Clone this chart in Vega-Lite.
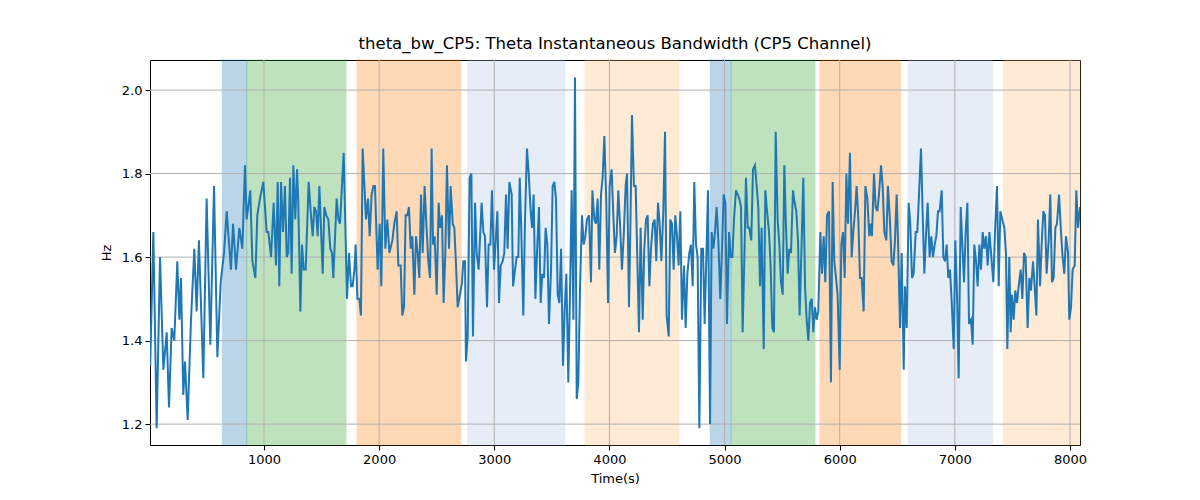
{
  "$schema": "https://vega.github.io/schema/vega-lite/v6.json",
  "width": 930,
  "height": 385,
  "autosize": "none",
  "padding": {"left": 150, "top": 60, "right": 120, "bottom": 55},
  "background": "white",
  "config": {
    "font": "DejaVu Sans",
    "view": {"stroke": "black", "strokeWidth": 1},
    "axis": {
      "grid": false,
      "domain": false,
      "tickColor": "black",
      "tickSize": 5,
      "labelColor": "black",
      "labelFontSize": 13,
      "labelPadding": 3,
      "titleColor": "black",
      "titleFontSize": 13,
      "titleFontWeight": "normal"
    }
  },
  "title": {
    "text": "theta_bw_CP5: Theta Instantaneous Bandwidth (CP5 Channel)",
    "fontSize": 16.5,
    "fontWeight": "normal",
    "color": "black",
    "offset": 7
  },
  "datasets": {
    "bands": [
      {"s": 638, "e": 850, "k": "a"},
      {"s": 850, "e": 1712, "k": "b"},
      {"s": 1808, "e": 2711, "k": "c"},
      {"s": 2769, "e": 3614, "k": "d"},
      {"s": 3788, "e": 4604, "k": "e"},
      {"s": 4876, "e": 5056, "k": "a"},
      {"s": 5056, "e": 5785, "k": "b"},
      {"s": 5829, "e": 6530, "k": "c"},
      {"s": 6596, "e": 7329, "k": "d"},
      {"s": 7421, "e": 8087, "k": "e"}
    ],
    "xticks": [{"x": 1000}, {"x": 2000}, {"x": 3000}, {"x": 4000}, {"x": 5000}, {"x": 6000}, {"x": 7000}, {"x": 8000}],
    "yticks": [{"y": 1.2}, {"y": 1.4}, {"y": 1.6}, {"y": 1.8}, {"y": 2.0}],
    "bw": [
      {"t":12,"v":1.34},{"t":39,"v":1.66},{"t":68,"v":1.19},{"t":97,"v":1.60},{"t":126,"v":1.33},{"t":155,"v":1.42},{"t":175,"v":1.24},{"t":198,"v":1.43},{"t":221,"v":1.40},{"t":247,"v":1.59},{"t":265,"v":1.45},{"t":279,"v":1.55},{"t":299,"v":1.27},{"t":314,"v":1.35},{"t":337,"v":1.21},{"t":366,"v":1.45},{"t":395,"v":1.62},{"t":415,"v":1.47},{"t":435,"v":1.64},{"t":473,"v":1.31},{"t":502,"v":1.74},{"t":534,"v":1.39},{"t":566,"v":1.77},{"t":595,"v":1.36},{"t":624,"v":1.54},{"t":653,"v":1.61},{"t":676,"v":1.71},{"t":713,"v":1.57},{"t":731,"v":1.68},{"t":757,"v":1.57},{"t":786,"v":1.67},{"t":812,"v":1.62},{"t":835,"v":1.82},{"t":849,"v":1.69},{"t":881,"v":1.76},{"t":899,"v":1.59},{"t":925,"v":1.55},{"t":942,"v":1.70},{"t":965,"v":1.74},{"t":994,"v":1.78},
      {"t":1023,"v":1.66},{"t":1038,"v":1.66},{"t":1061,"v":1.60},{"t":1084,"v":1.73},{"t":1104,"v":1.58},{"t":1119,"v":1.78},{"t":1133,"v":1.53},{"t":1148,"v":1.78},{"t":1165,"v":1.66},{"t":1182,"v":1.77},{"t":1197,"v":1.60},{"t":1211,"v":1.61},{"t":1226,"v":1.79},{"t":1240,"v":1.56},{"t":1255,"v":1.82},{"t":1272,"v":1.69},{"t":1287,"v":1.81},{"t":1298,"v":1.73},{"t":1316,"v":1.47},{"t":1330,"v":1.63},{"t":1345,"v":1.57},{"t":1362,"v":1.57},{"t":1388,"v":1.78},{"t":1408,"v":1.70},{"t":1423,"v":1.65},{"t":1437,"v":1.72},{"t":1452,"v":1.71},{"t":1466,"v":1.65},{"t":1481,"v":1.77},{"t":1510,"v":1.56},{"t":1524,"v":1.72},{"t":1541,"v":1.70},{"t":1559,"v":1.69},{"t":1576,"v":1.62},{"t":1591,"v":1.61},{"t":1602,"v":1.55},{"t":1631,"v":1.74},{"t":1646,"v":1.69},{"t":1660,"v":1.68},{"t":1692,"v":1.85},{"t":1721,"v":1.50},{"t":1738,"v":1.61},{"t":1756,"v":1.53},{"t":1770,"v":1.53},{"t":1785,"v":1.57},{"t":1796,"v":1.63},{"t":1811,"v":1.50},{"t":1828,"v":1.50},{"t":1842,"v":1.46},{"t":1857,"v":1.86},{"t":1886,"v":1.69},{"t":1903,"v":1.74},{"t":1918,"v":1.65},{"t":1935,"v":1.75},{"t":1950,"v":1.77},{"t":1964,"v":1.77},{"t":1987,"v":1.57},{"t":2005,"v":1.68},{"t":2019,"v":1.53},{"t":2036,"v":1.86},{"t":2054,"v":1.62},{"t":2071,"v":1.69},{"t":2089,"v":1.61},
      {"t":2115,"v":1.64},{"t":2132,"v":1.68},{"t":2152,"v":1.71},{"t":2167,"v":1.58},{"t":2187,"v":1.58},{"t":2201,"v":1.46},{"t":2216,"v":1.48},{"t":2230,"v":1.70},{"t":2245,"v":1.70},{"t":2259,"v":1.72},{"t":2274,"v":1.62},{"t":2288,"v":1.65},{"t":2306,"v":1.51},{"t":2320,"v":1.65},{"t":2335,"v":1.61},{"t":2349,"v":1.55},{"t":2364,"v":1.75},{"t":2378,"v":1.61},{"t":2395,"v":1.77},{"t":2410,"v":1.68},{"t":2427,"v":1.59},{"t":2442,"v":1.55},{"t":2456,"v":1.86},{"t":2468,"v":1.63},{"t":2482,"v":1.65},{"t":2500,"v":1.51},{"t":2517,"v":1.73},{"t":2529,"v":1.67},{"t":2546,"v":1.70},{"t":2560,"v":1.49},{"t":2575,"v":1.61},{"t":2589,"v":1.82},{"t":2607,"v":1.62},{"t":2621,"v":1.77},{"t":2639,"v":1.68},{"t":2653,"v":1.67},{"t":2668,"v":1.58},{"t":2682,"v":1.48},{"t":2702,"v":1.51},{"t":2720,"v":1.54},{"t":2731,"v":1.59},{"t":2746,"v":1.59},{"t":2754,"v":1.35},{"t":2769,"v":1.41},{"t":2786,"v":1.79},{"t":2801,"v":1.80},{"t":2815,"v":1.41},{"t":2833,"v":1.73},{"t":2847,"v":1.61},{"t":2864,"v":1.57},{"t":2890,"v":1.73},{"t":2905,"v":1.66},{"t":2919,"v":1.65},{"t":2937,"v":1.48},{"t":2951,"v":1.63},{"t":2966,"v":1.63},{"t":2980,"v":1.76},{"t":2998,"v":1.57},{"t":3027,"v":1.71},{"t":3041,"v":1.49},{"t":3056,"v":1.58},{"t":3073,"v":1.59},{"t":3087,"v":1.61},{"t":3102,"v":1.75},{"t":3116,"v":1.62},{"t":3131,"v":1.78},
      {"t":3137,"v":1.77},{"t":3151,"v":1.75},{"t":3163,"v":1.53},{"t":3180,"v":1.57},{"t":3194,"v":1.60},{"t":3209,"v":1.60},{"t":3221,"v":1.79},{"t":3235,"v":1.66},{"t":3252,"v":1.46},{"t":3267,"v":1.69},{"t":3284,"v":1.86},{"t":3299,"v":1.80},{"t":3316,"v":1.71},{"t":3328,"v":1.67},{"t":3342,"v":1.75},{"t":3357,"v":1.50},{"t":3371,"v":1.61},{"t":3388,"v":1.72},{"t":3403,"v":1.49},{"t":3417,"v":1.56},{"t":3432,"v":1.55},{"t":3446,"v":1.67},{"t":3461,"v":1.63},{"t":3475,"v":1.44},{"t":3493,"v":1.57},{"t":3507,"v":1.77},{"t":3522,"v":1.78},{"t":3536,"v":1.74},{"t":3551,"v":1.51},{"t":3565,"v":1.49},{"t":3580,"v":1.62},{"t":3597,"v":1.34},{"t":3611,"v":1.47},{"t":3626,"v":1.56},{"t":3643,"v":1.30},{"t":3658,"v":1.52},{"t":3672,"v":1.76},{"t":3687,"v":1.45},{"t":3701,"v":2.03},{"t":3716,"v":1.26},{"t":3730,"v":1.30},{"t":3745,"v":1.53},{"t":3762,"v":1.70},{"t":3776,"v":1.63},{"t":3791,"v":1.65},{"t":3805,"v":1.69},{"t":3823,"v":1.70},{"t":3840,"v":1.54},{"t":3852,"v":1.76},{"t":3869,"v":1.69},{"t":3883,"v":1.68},{"t":3898,"v":1.74},{"t":3912,"v":1.57},{"t":3927,"v":1.75},{"t":3941,"v":1.79},{"t":3956,"v":1.89},{"t":3973,"v":1.73},{"t":3988,"v":1.49},{"t":4002,"v":1.77},{"t":4019,"v":1.81},{"t":4034,"v":1.70},{"t":4048,"v":1.61},{"t":4063,"v":1.65},{"t":4077,"v":1.76},{"t":4092,"v":1.68},{"t":4109,"v":1.57},{"t":4124,"v":1.65},{"t":4141,"v":1.77},{"t":4153,"v":1.80},{"t":4170,"v":1.48},
      {"t":4182,"v":1.67},{"t":4196,"v":1.94},{"t":4213,"v":1.77},{"t":4228,"v":1.77},{"t":4242,"v":1.60},{"t":4257,"v":1.42},{"t":4271,"v":1.67},{"t":4289,"v":1.45},{"t":4303,"v":1.62},{"t":4318,"v":1.69},{"t":4332,"v":1.70},{"t":4347,"v":1.53},{"t":4361,"v":1.62},{"t":4378,"v":1.68},{"t":4393,"v":1.69},{"t":4407,"v":1.59},{"t":4422,"v":1.73},{"t":4436,"v":1.68},{"t":4451,"v":1.59},{"t":4468,"v":1.71},{"t":4483,"v":1.90},{"t":4497,"v":1.46},{"t":4515,"v":1.41},{"t":4529,"v":1.69},{"t":4543,"v":1.68},{"t":4558,"v":1.57},{"t":4572,"v":1.70},{"t":4587,"v":1.65},{"t":4601,"v":1.58},{"t":4616,"v":1.71},{"t":4630,"v":1.45},{"t":4648,"v":1.58},{"t":4662,"v":1.43},{"t":4677,"v":1.56},{"t":4694,"v":1.61},{"t":4708,"v":1.63},{"t":4723,"v":1.53},{"t":4737,"v":1.78},{"t":4752,"v":1.63},{"t":4766,"v":1.60},{"t":4781,"v":1.19},{"t":4798,"v":1.62},{"t":4813,"v":1.62},{"t":4827,"v":1.44},{"t":4842,"v":1.60},{"t":4856,"v":1.76},{"t":4874,"v":1.20},{"t":4888,"v":1.66},{"t":4903,"v":1.62},{"t":4917,"v":1.66},{"t":4931,"v":1.72},{"t":4946,"v":1.64},{"t":4963,"v":1.50},{"t":4978,"v":1.62},{"t":4992,"v":1.75},{"t":5007,"v":1.73},{"t":5021,"v":1.44},{"t":5039,"v":1.66},{"t":5053,"v":1.60},{"t":5068,"v":1.60},{"t":5082,"v":1.69},{"t":5099,"v":1.76},{"t":5114,"v":1.75},{"t":5128,"v":1.74},{"t":5143,"v":1.72},{"t":5157,"v":1.42},{"t":5172,"v":1.60},{"t":5186,"v":1.79},{"t":5201,"v":1.67},{"t":5215,"v":1.67},
      {"t":5232,"v":1.64},{"t":5247,"v":1.81},{"t":5264,"v":1.82},{"t":5279,"v":1.77},{"t":5293,"v":1.72},{"t":5308,"v":1.53},{"t":5322,"v":1.67},{"t":5340,"v":1.38},{"t":5354,"v":1.76},{"t":5369,"v":1.71},{"t":5386,"v":1.66},{"t":5400,"v":1.58},{"t":5415,"v":1.43},{"t":5429,"v":1.42},{"t":5444,"v":1.90},{"t":5461,"v":1.69},{"t":5476,"v":1.63},{"t":5490,"v":1.54},{"t":5505,"v":1.51},{"t":5519,"v":1.82},{"t":5534,"v":1.67},{"t":5548,"v":1.56},{"t":5563,"v":1.62},{"t":5577,"v":1.61},{"t":5594,"v":1.76},{"t":5609,"v":1.73},{"t":5623,"v":1.71},{"t":5638,"v":1.64},{"t":5652,"v":1.46},{"t":5667,"v":1.61},{"t":5684,"v":1.79},{"t":5699,"v":1.53},{"t":5713,"v":1.45},{"t":5728,"v":1.40},{"t":5742,"v":1.49},{"t":5757,"v":1.50},{"t":5771,"v":1.42},{"t":5785,"v":1.48},{"t":5800,"v":1.45},{"t":5814,"v":1.47},{"t":5832,"v":1.66},{"t":5846,"v":1.56},{"t":5861,"v":1.65},{"t":5875,"v":1.54},{"t":5890,"v":1.70},{"t":5907,"v":1.71},{"t":5924,"v":1.30},{"t":5939,"v":1.78},{"t":5953,"v":1.59},{"t":5968,"v":1.55},{"t":5982,"v":1.51},{"t":6000,"v":1.33},{"t":6014,"v":1.63},{"t":6029,"v":1.66},{"t":6043,"v":1.55},{"t":6058,"v":1.80},{"t":6072,"v":1.68},{"t":6089,"v":1.85},{"t":6104,"v":1.60},{"t":6118,"v":1.66},{"t":6133,"v":1.71},{"t":6147,"v":1.77},{"t":6162,"v":1.69},{"t":6176,"v":1.55},{"t":6191,"v":1.55},{"t":6208,"v":1.47},{"t":6223,"v":1.77},{"t":6240,"v":1.74},{"t":6257,"v":1.65},
      {"t":6266,"v":1.68},{"t":6280,"v":1.65},{"t":6298,"v":1.80},{"t":6312,"v":1.72},{"t":6327,"v":1.71},{"t":6341,"v":1.75},{"t":6359,"v":1.82},{"t":6373,"v":1.77},{"t":6388,"v":1.66},{"t":6405,"v":1.64},{"t":6419,"v":1.77},{"t":6434,"v":1.70},{"t":6451,"v":1.59},{"t":6466,"v":1.58},{"t":6480,"v":1.64},{"t":6495,"v":1.75},{"t":6509,"v":1.61},{"t":6524,"v":1.43},{"t":6538,"v":1.61},{"t":6556,"v":1.33},{"t":6567,"v":1.53},{"t":6582,"v":1.43},{"t":6599,"v":1.73},{"t":6613,"v":1.68},{"t":6628,"v":1.55},{"t":6642,"v":1.56},{"t":6660,"v":1.66},{"t":6674,"v":1.66},{"t":6689,"v":1.75},{"t":6706,"v":1.86},{"t":6721,"v":1.70},{"t":6735,"v":1.56},{"t":6749,"v":1.65},{"t":6764,"v":1.73},{"t":6781,"v":1.60},{"t":6796,"v":1.65},{"t":6810,"v":1.60},{"t":6825,"v":1.63},{"t":6839,"v":1.65},{"t":6854,"v":1.71},{"t":6868,"v":1.71},{"t":6886,"v":1.76},{"t":6900,"v":1.60},{"t":6915,"v":1.59},{"t":6929,"v":1.63},{"t":6943,"v":1.55},{"t":6958,"v":1.57},{"t":6975,"v":1.48},{"t":6990,"v":1.38},{"t":7004,"v":1.64},{"t":7019,"v":1.51},{"t":7033,"v":1.31},{"t":7051,"v":1.72},{"t":7065,"v":1.63},{"t":7080,"v":1.54},{"t":7094,"v":1.66},{"t":7109,"v":1.73},{"t":7123,"v":1.44},{"t":7140,"v":1.45},{"t":7155,"v":1.39},{"t":7169,"v":1.63},{"t":7184,"v":1.59},{"t":7198,"v":1.53},{"t":7213,"v":1.63},{"t":7227,"v":1.57},{"t":7242,"v":1.66},{"t":7256,"v":1.62},{"t":7271,"v":1.65},{"t":7285,"v":1.58},{"t":7300,"v":1.66},
      {"t":7317,"v":1.60},{"t":7334,"v":1.54},{"t":7349,"v":1.66},{"t":7366,"v":1.77},{"t":7381,"v":1.53},{"t":7395,"v":1.71},{"t":7412,"v":1.69},{"t":7430,"v":1.67},{"t":7444,"v":1.61},{"t":7456,"v":1.38},{"t":7473,"v":1.60},{"t":7485,"v":1.42},{"t":7496,"v":1.51},{"t":7511,"v":1.45},{"t":7525,"v":1.52},{"t":7540,"v":1.49},{"t":7554,"v":1.53},{"t":7572,"v":1.57},{"t":7586,"v":1.50},{"t":7601,"v":1.61},{"t":7615,"v":1.60},{"t":7632,"v":1.43},{"t":7647,"v":1.55},{"t":7661,"v":1.52},{"t":7679,"v":1.59},{"t":7693,"v":1.53},{"t":7708,"v":1.46},{"t":7722,"v":1.69},{"t":7740,"v":1.53},{"t":7754,"v":1.63},{"t":7769,"v":1.71},{"t":7783,"v":1.70},{"t":7797,"v":1.56},{"t":7815,"v":1.64},{"t":7829,"v":1.75},{"t":7844,"v":1.54},{"t":7858,"v":1.55},{"t":7873,"v":1.67},{"t":7887,"v":1.68},{"t":7905,"v":1.75},{"t":7922,"v":1.66},{"t":7936,"v":1.60},{"t":7951,"v":1.56},{"t":7965,"v":1.65},{"t":7983,"v":1.61},{"t":7994,"v":1.45},{"t":8009,"v":1.48},{"t":8023,"v":1.57},{"t":8041,"v":1.58},{"t":8055,"v":1.76},{"t":8070,"v":1.67},{"t":8087,"v":1.72}
    ]
  },
  "layer": [
    {
      "data": {"name": "bands"},
      "mark": {"type": "rect", "opacity": 0.3, "strokeWidth": 1},
      "encoding": {
        "x": {
          "field": "s",
          "type": "quantitative",
          "scale": {"domain": [10, 8087], "nice": false, "zero": false},
          "axis": {"values": [1000, 2000, 3000, 4000, 5000, 6000, 7000, 8000], "format": "d", "title": "Time(s)", "titlePadding": 6}
        },
        "x2": {"field": "e"},
        "color": {
          "field": "k",
          "type": "nominal",
          "scale": {"domain": ["a", "b", "c", "d", "e"], "range": ["#1f77b4", "#2ca02c", "#ff7f0e", "#aec7e8", "#ffbb78"]},
          "legend": null
        },
        "stroke": {
          "field": "k",
          "type": "nominal",
          "scale": {"domain": ["a", "b", "c", "d", "e"], "range": ["#1f77b4", "#2ca02c", "#ff7f0e", "#aec7e8", "#ffbb78"]},
          "legend": null
        }
      }
    },
    {
      "data": {"name": "xticks"},
      "mark": {"type": "rule", "color": "#b0b0b0", "strokeWidth": 1},
      "encoding": {"x": {"field": "x", "type": "quantitative"}}
    },
    {
      "data": {"name": "yticks"},
      "mark": {"type": "rule", "color": "#b0b0b0", "strokeWidth": 1},
      "encoding": {"y": {"field": "y", "type": "quantitative"}}
    },
    {
      "data": {"name": "bw"},
      "mark": {"type": "line", "color": "#1f77b4", "strokeWidth": 2, "clip": true},
      "encoding": {
        "x": {"field": "t", "type": "quantitative"},
        "y": {
          "field": "v",
          "type": "quantitative",
          "scale": {"domain": [1.15, 2.072], "nice": false, "zero": false},
          "axis": {"values": [1.2, 1.4, 1.6, 1.8, 2.0], "format": ".1f", "title": "Hz", "titlePadding": 8}
        }
      }
    }
  ]
}
